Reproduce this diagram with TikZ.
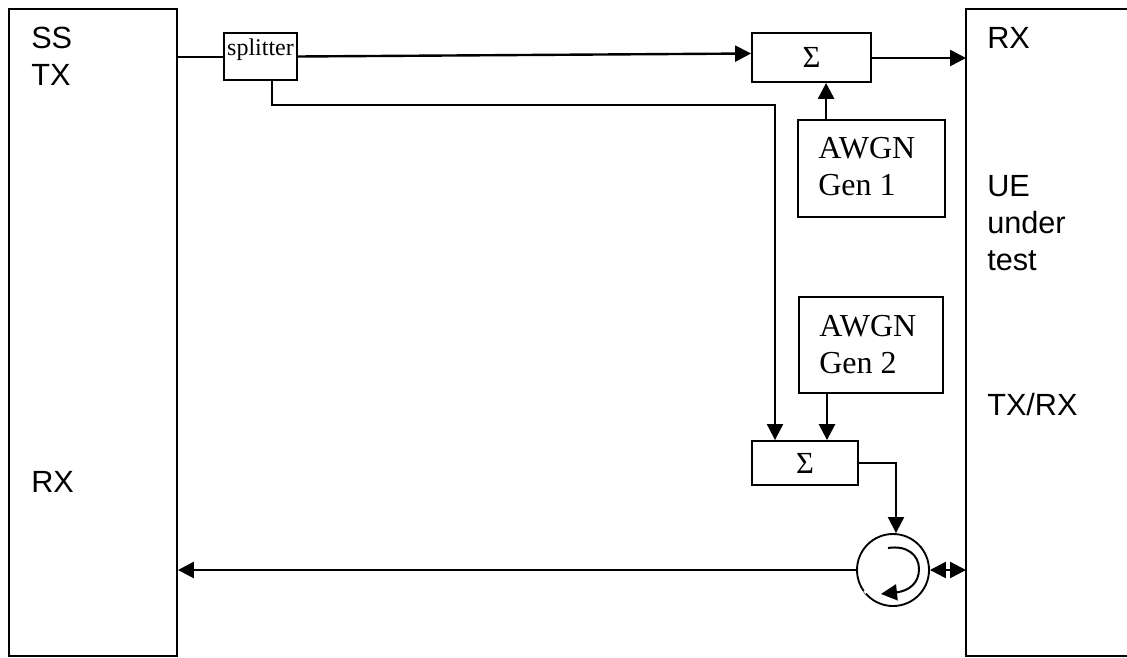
\documentclass[tikz,border=0pt]{standalone}
\usepackage{fontspec}
\setmainfont{Liberation Serif}
\newfontfamily\arialfont{Liberation Sans}
\usetikzlibrary{positioning}
\usetikzlibrary{arrows.meta}
\usetikzlibrary{calc}
\tikzset{
	block/.style={draw,line width=1.4pt,inner sep=0pt},
	wire/.style={line width=1.5pt},
	feed/.style={line width=2pt,-{Triangle[length=12pt,width=12pt]}},
	label/.style={inner sep=0pt,anchor=west,align=left,font=\arialfont\fontsize{23}{27.7}\selectfont},
	gen/.style={inner sep=0pt,anchor=west,align=left,font=\fontsize{24}{27.7}\selectfont},
	sum/.style={block,font=\fontsize{23}{25}\selectfont}
}
\begin{document}
\begin{tikzpicture}[x=0.75pt,y=-0.75pt]
\useasboundingbox (0,0) rectangle (1127,657);
\node[block,minimum width=126pt,minimum height=485.25pt] (sstx) at (93,332.5) {};
\coordinate (ueA) at (1127,9);
\coordinate (ueB) at (966,9);
\coordinate (ueC) at (966,656);
\coordinate (ueD) at (1127,656);
\draw[line width=1.4pt] (ueA) -- (ueB) -- (ueC) -- (ueD);
\node[block,minimum width=54.75pt,minimum height=35.25pt] (splitter) at (260.5,56.5) {};
\node[inner sep=0pt,font=\fontsize{18}{20}\selectfont] (splittertext) at (260.5,50) {splitter};
\node[sum,minimum width=89.25pt,minimum height=36.75pt] (sum1) at (811.5,57.5) {Σ};
\node[sum,minimum width=79.5pt,minimum height=33pt] (sum2) at (805,463) {Σ};
\node[block,minimum width=110.25pt,minimum height=72.75pt] (gen1) at (871.5,168.5) {};
\node[block,minimum width=108pt,minimum height=72pt] (gen2) at (871,345) {};
\node[gen] (gen1text) at (818,167) {AWGN\\Gen 1};
\node[gen] (gen2text) at (819,345) {AWGN\\Gen 2};
\node[draw,circle,line width=1.4pt,minimum size=54pt,inner sep=0pt] (circ) at (893,570) {};
\node[label] (sslabel) at (31,56) {SS\\TX};
\node[label] (rxleft) at (31,482) {RX};
\node[label] (rxright) at (987,38) {RX};
\node[label] (uelabel) at (987,223) {UE\\under\\test};
\node[label] (trxlabel) at (987,405) {TX/RX};
\coordinate (rxin) at (ueB |- 0,58);
\coordinate (trxin) at (ueB |- circ);
\coordinate (bendA) at (272,105);
\coordinate (bendB) at (775,105);
\coordinate (bendC) at (896,463);
%the tiny break in the ring
\draw[white,line width=2pt] (864.5,590.5) -- (866.5,593);
\draw[wire] (sstx.east |- splitter) -- (splitter.west);
\draw[line width=1.8pt,-{Triangle[length=12pt,width=12pt]}] (splitter.east) -- ($(sum1.west)+(0,-4)$);
\draw[feed] (sum1.east |- rxin) -- (rxin);
\draw[feed] (sum1.south -| gen1.west) ++(29,38) -- ++(0,-38);
\draw[wire,-{Triangle[length=12pt,width=12pt]}] (splitter.south -| bendA) -- (bendA) -- (bendB) -- (bendB |- sum2.north);
\draw[feed] (gen2.south -| 827,0) -- (sum2.north -| 827,0);
\draw[wire,-{Triangle[length=12pt,width=12pt]}] (sum2.east) -- (bendC) -- (circ.north -| bendC);
\draw[feed] (circ.west) -- (sstx.east |- circ);
\draw[line width=1.8pt,{Triangle[length=12pt,width=12pt]}-{Triangle[length=12pt,width=12pt]}] (circ.east) -- (trxin);
\draw[line width=1.5pt,-{Triangle[length=12pt,width=12pt]}] (888,548) .. controls (907,545) and (919,555) .. (919,569) .. controls (919,583) and (909,591) .. (881,594);
\end{tikzpicture}
\end{document}
